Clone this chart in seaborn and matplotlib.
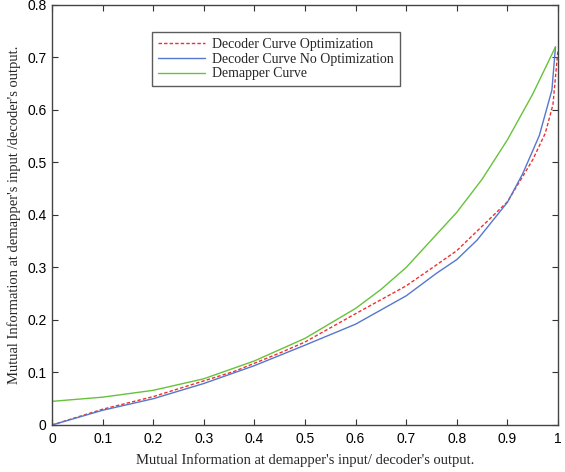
import numpy as np
import pandas as pd
import matplotlib
matplotlib.use("Agg")
import matplotlib.pyplot as plt
import seaborn as sns
from matplotlib.ticker import FuncFormatter

opt_x = [0, 0.1, 0.2, 0.3, 0.36, 0.45, 0.5, 0.6, 0.7, 0.76, 0.8, 0.9, 0.95, 0.975, 0.99, 1.0]
opt_y = [0, 0.03, 0.054, 0.084, 0.102, 0.137, 0.158, 0.212, 0.265, 0.305, 0.332, 0.425, 0.505, 0.556, 0.61, 0.715]

noopt_x = [0, 0.1, 0.2, 0.3, 0.4, 0.5, 0.6, 0.7, 0.76, 0.8, 0.84, 0.9, 0.93, 0.963, 0.988, 0.995]
noopt_y = [0, 0.028, 0.05, 0.079, 0.113, 0.152, 0.192, 0.246, 0.289, 0.315, 0.352, 0.424, 0.478, 0.551, 0.638, 0.72]

demap_x = [0, 0.1, 0.2, 0.3, 0.4, 0.5, 0.6, 0.65, 0.7, 0.8, 0.85, 0.9, 0.95, 0.995]
demap_y = [0.045, 0.053, 0.066, 0.088, 0.122, 0.165, 0.222, 0.258, 0.300, 0.405, 0.468, 0.543, 0.63, 0.72]

labels = ["Decoder Curve Optimization", "Decoder Curve No Optimization", "Demapper Curve"]
xlabel = "Mutual Information at demapper's input/ decoder's output."
ylabel = "Mutual Information at demapper's input /decoder's output."

sns.set_style("ticks")
plt.rcParams['font.family'] = ['Liberation Sans', 'DejaVu Sans']

fig = plt.figure(figsize=(5.65, 4.72), dpi=100)
ax = fig.add_axes([0.092, 0.0996, 0.8956, 0.89])

sns.lineplot(x=opt_x, y=opt_y, ax=ax, color='#f03030', linewidth=1.0,
             linestyle=(0, (2.5, 1.5)), label=labels[0])
sns.lineplot(x=noopt_x, y=noopt_y, ax=ax, color='#5577cc', linewidth=1.0,
             label=labels[1])
sns.lineplot(x=demap_x, y=demap_y, ax=ax, color='#66c23a', linewidth=1.0,
             label=labels[2])

ax.set_xlim(0, 1)
ax.set_ylim(0, 0.8)
ax.set_xticks(np.arange(0, 1.01, 0.1))
ax.set_yticks(np.arange(0, 0.81, 0.1))
fmt = FuncFormatter(lambda v, p: '0' if abs(v) < 1e-9 else ('1' if abs(v - 1) < 1e-9 else '%.1f' % v))
ax.xaxis.set_major_formatter(fmt)
ax.yaxis.set_major_formatter(fmt)
ax.tick_params(direction='in', top=True, right=True, length=4, width=0.8,
               labelsize=10, colors='#333333', pad=5)
ax.tick_params(axis='x', labelcolor='black')
ax.tick_params(axis='y', labelcolor='black', pad=4)
for s in ax.spines.values():
    s.set_color('#444444')
    s.set_linewidth(1.0)

ax.set_xlabel(xlabel, family='Liberation Serif', fontsize=10.5, labelpad=5)
ax.set_ylabel(ylabel, family='Liberation Serif', fontsize=10.5, labelpad=4)

leg = ax.legend(loc='upper left', bbox_to_anchor=(0.198, 0.935), borderaxespad=0,
                prop={'family': 'Liberation Serif', 'size': 10}, frameon=True,
                fancybox=False, handlelength=3.4, handletextpad=0.5,
                labelspacing=0.12, borderpad=0.42)
leg.get_frame().set_edgecolor('#333333')
leg.get_frame().set_linewidth(1.0)

fig.savefig('out.png', dpi=100)
